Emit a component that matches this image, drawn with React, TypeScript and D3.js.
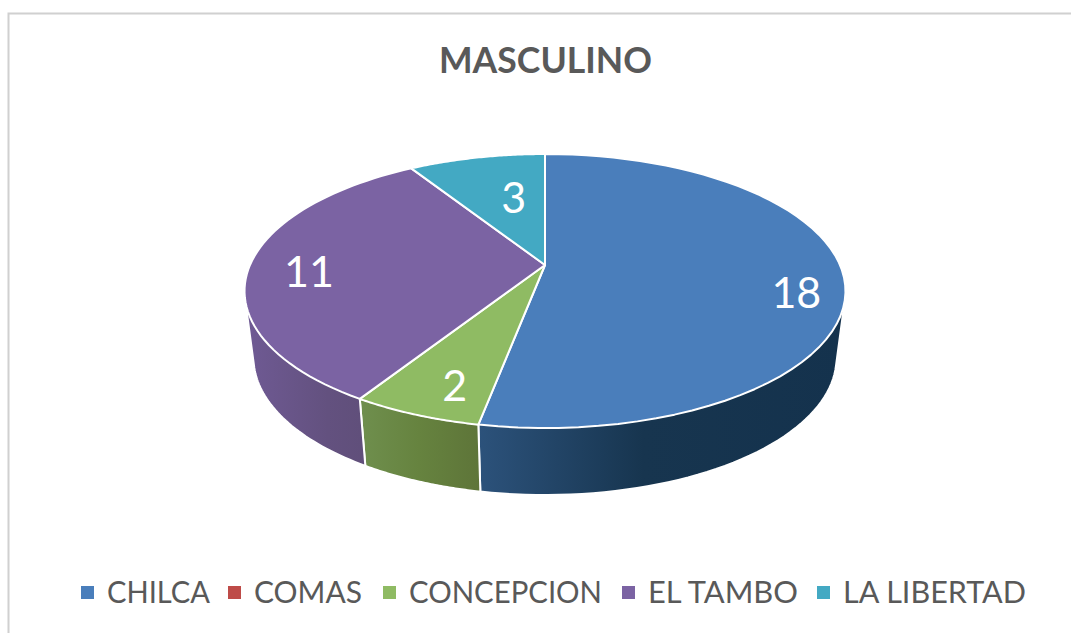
import React from 'react';
import * as d3 from 'd3';

const title = 'MASCULINO';
const categories = ['CHILCA', 'COMAS', 'CONCEPCION', 'EL TAMBO', 'LA LIBERTAD'];
const values = [18, 0, 2, 11, 3];
const colors = ['#4a7ebb', '#be4b48', '#8fbb63', '#7b63a3', '#43a9c3'];
const wallStops = [
  ['#2c527b', '#17354f', '#14324d'],
  ['#8c3a38', '#7a2f2d', '#702a28'],
  ['#6f8f4e', '#66833f', '#5e7539'],
  ['#6f5a94', '#63517f', '#5c4c74'],
  ['#2f7f93', '#2a7082', '#266576'],
];

const width = 1071;
const height = 633;
const cx = 545;
const apexY = 265;
const radX = 295;
const radY = 81.7;
const persp = -0.19;
const wallDepth = 67;
const wallScale = 0.97;
const TAU = Math.PI * 2;

// perspective projection of the unit disc onto the page
const project = (angle: number, r = 1): [number, number] => {
  const u = r * Math.sin(angle);
  const v = -r * Math.cos(angle);
  const den = 1 + persp * v;
  return [cx + (radX * u) / den, (radY * v + apexY) / den];
};
const toBottom = ([x, y]: [number, number]): [number, number] => [
  cx + (x - cx) * wallScale,
  y + wallDepth,
];

const arcPoints = (a0: number, a1: number) =>
  d3.range(0, 61).map((i) => project(a0 + ((a1 - a0) * i) / 60));

const pie = d3.pie<number>().sort(null)(values);
const line = d3.line();

const wallMin = (80 / 360) * TAU;
const wallMax = (280 / 360) * TAU;
const labelNudge: [number, number][] = [[13, 17], [0, 0], [9, 5], [0, 5], [25, 20]];

const legendX = d3.scaleOrdinal<string, number>()
  .domain(categories)
  .range([81, 228, 383, 622, 817]);
const legendWidth = d3.scaleOrdinal<string, number>()
  .domain(categories)
  .range([103, 108, 193, 150, 183]);

export default function App() {
  const font = 'Lato, "Open Sans", sans-serif';
  return (
    <svg width={width} height={height} style={{ position: 'absolute', left: 0, top: 0, display: 'block' }}>
      <defs>
        {pie.map((d, i) => {
          const xs = arcPoints(d.startAngle, d.endAngle).map((p) => p[0]);
          return (
            <linearGradient
              key={i}
              id={`wall-${i}`}
              gradientUnits="userSpaceOnUse"
              x1={d3.min(xs)}
              x2={d3.max(xs)}
              y1={0}
              y2={0}
            >
              {wallStops[i].map((c, j) => (
                <stop key={j} offset={i === 0 ? [0, 0.45, 1][j] : j / 2} stopColor={c} />
              ))}
            </linearGradient>
          );
        })}
      </defs>
      <rect width={width} height={height} fill="#fff" />
      <path d="M8.5,633V13.5H1071" fill="none" stroke="#d0d0d0" strokeWidth={2} />

      <text x={545.5} y={73} textAnchor="middle" fontFamily={font} fontWeight={700} fontSize={36}
        fill="#595959" textLength={213} lengthAdjust="spacingAndGlyphs">{title}</text>

      {pie.map((d, i) => {
        const a0 = Math.max(d.startAngle, wallMin);
        const a1 = Math.min(d.endAngle, wallMax);
        if (a1 <= a0) return null;
        const top = arcPoints(a0, a1);
        // hull so the wall reaches the tangent of the top ellipse at the sides
        const hull = d3.polygonHull([...top, ...top.map(toBottom)]);
        return (
          <path key={i} d={line(hull) + 'Z'} fill={`url(#wall-${i})`}
            stroke="#fff" strokeWidth={2} strokeLinejoin="round" />
        );
      })}

      {pie.map((d, i) =>
        d.value > 0 ? (
          <path key={i} d={line([[cx, apexY], ...arcPoints(d.startAngle, d.endAngle)]) + 'Z'}
            fill={colors[i]} stroke="#fff" strokeWidth={2} strokeLinejoin="round" />
        ) : null
      )}

      {pie.map((d, i) => {
        if (d.value === 0) return null;
        const [x, y] = project((d.startAngle + d.endAngle) / 2, 0.8);
        return (
          <text key={i} x={x + labelNudge[i][0]} y={y + labelNudge[i][1]} textAnchor="middle"
            dominantBaseline="central" fontFamily={font} fontSize={43} fill="#fff">
            {d.value}
          </text>
        );
      })}

      {categories.map((c, i) => (
        <g key={c}>
          <rect x={legendX(c)} y={586} width={13} height={13} fill={colors[i]} />
          <text x={legendX(c) + 26} y={603} fontFamily={font} fontSize={31} fill="#595959"
            textLength={legendWidth(c)} lengthAdjust="spacingAndGlyphs">{c}</text>
        </g>
      ))}
    </svg>
  );
}
